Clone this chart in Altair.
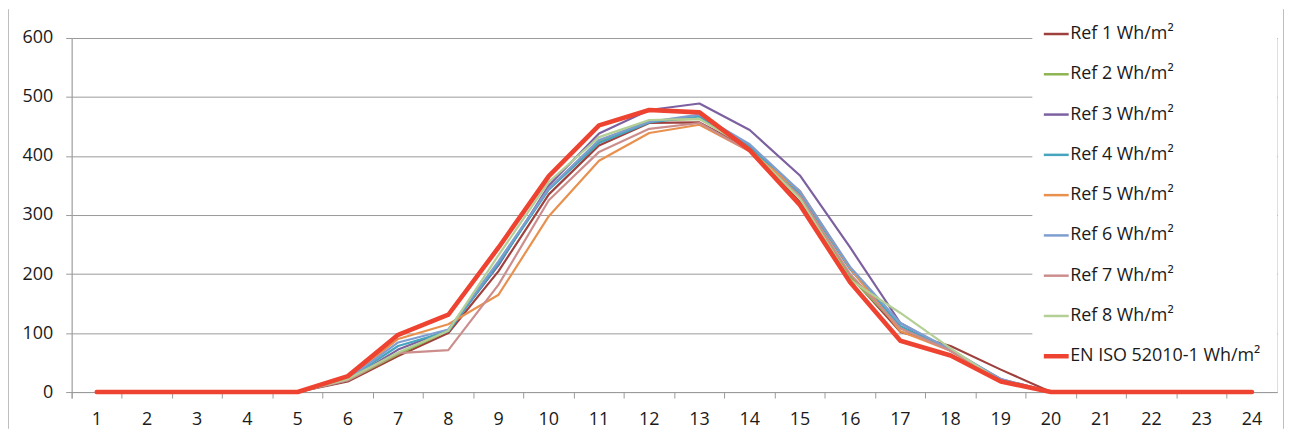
import altair as alt
import pandas as pd

hours = list(range(1, 25))
series_names = [
    "Ref 1 Wh/m²", "Ref 2 Wh/m²", "Ref 3 Wh/m²", "Ref 4 Wh/m²",
    "Ref 5 Wh/m²", "Ref 6 Wh/m²", "Ref 7 Wh/m²", "Ref 8 Wh/m²",
    "EN ISO 52010-1 Wh/m²",
]
ref1 = [0, 0, 0, 0, 0, 18, 61, 100, 205, 335, 418, 456, 457, 412, 322, 197, 102, 78, 38, 0, 0, 0, 0, 0]
ref2 = [0, 0, 0, 0, 0, 20, 64, 104, 220, 345, 425, 460, 463, 415, 330, 195, 108, 72, 20, 0, 0, 0, 0, 0]
ref3 = [0, 0, 0, 0, 0, 20, 72, 105, 215, 350, 438, 478, 489, 444, 367, 245, 117, 70, 22, 0, 0, 0, 0, 0]
ref4 = [0, 0, 0, 0, 0, 22, 78, 103, 218, 343, 422, 457, 467, 417, 336, 208, 112, 70, 20, 0, 0, 0, 0, 0]
ref5 = [0, 0, 0, 0, 0, 22, 90, 115, 165, 298, 392, 439, 453, 408, 341, 210, 103, 70, 20, 0, 0, 0, 0, 0]
ref6 = [0, 0, 0, 0, 0, 22, 84, 106, 222, 345, 427, 458, 470, 420, 340, 212, 117, 72, 22, 0, 0, 0, 0, 0]
ref7 = [0, 0, 0, 0, 0, 20, 66, 71, 182, 325, 407, 446, 456, 408, 332, 200, 108, 70, 18, 0, 0, 0, 0, 0]
ref8 = [0, 0, 0, 0, 0, 22, 67, 104, 232, 356, 432, 461, 463, 412, 328, 190, 134, 74, 18, 0, 0, 0, 0, 0]
en_iso = [0, 0, 0, 0, 0, 27, 97, 131, 245, 366, 452, 478, 474, 410, 317, 186, 87, 62, 18, 0, 0, 0, 0, 0]

colors = ["#9E413E", "#8DB451", "#7D60A0", "#46A4BE", "#E8914F",
          "#7F9ED0", "#CB8E8C", "#B3CF95", "#EE4330"]
line_widths = [2.2, 2.2, 2.2, 2.2, 2.2, 2.2, 2.2, 2.2, 4.6]

all_series = [ref1, ref2, ref3, ref4, ref5, ref6, ref7, ref8, en_iso]
rows = []
for name, vals, lw in zip(series_names, all_series, line_widths):
    for h, v in zip(hours, vals):
        rows.append({"hour": h, "series": name, "value": v, "lw": lw})
df = pd.DataFrame(rows)

W, H = 1212, 356
PAD_L, PAD_T, PAD_R, PAD_B = 64, 29, 9, 37
FONT = "Open Sans"
FS = 18
TXT = "#1a1a1a"
GRID = "#9a9a9a"
ISO = "EN ISO 52010-1 Wh/m²"

legend = alt.Legend(
    title=None, orient="none", legendX=966, legendY=-28,
    symbolType="stroke", symbolSize=625, labelFontSize=FS, labelFont=FONT,
    labelColor=TXT, rowPadding=22.5, labelOffset=5, padding=15,
    fillColor="white", strokeColor="white", labelLimit=400,
    symbolStrokeWidth={"expr": "datum.value == '" + ISO + "' ? 4.5 : 2.5"},
)

x_enc = alt.X(
    "hour:O",
    scale=alt.Scale(type="band", paddingInner=0, paddingOuter=0),
    axis=alt.Axis(title=None, labelAngle=0, bandPosition=0, tickExtra=True,
                  tickSize=6, tickColor=GRID, domainColor=GRID, grid=False,
                  labelFont=FONT, labelFontSize=FS, labelColor=TXT, labelPadding=13),
)
y_enc = alt.Y(
    "value:Q",
    scale=alt.Scale(domain=[0, 600], nice=False),
    axis=alt.Axis(title=None, values=[0, 100, 200, 300, 400, 500, 600],
                  tickSize=6, tickColor=GRID, domainColor=GRID, gridColor=GRID,
                  grid=True, labelFont=FONT, labelFontSize=FS, labelColor=TXT,
                  labelPadding=13),
)
color_enc = alt.Color("series:N", scale=alt.Scale(domain=series_names, range=colors),
                      legend=legend)

base = alt.Chart(df).mark_line(strokeJoin="round", strokeCap="round").encode(
    x=x_enc, y=y_enc, color=color_enc,
    strokeWidth=alt.StrokeWidth("lw:Q", scale=None),
)
refs = base.transform_filter(alt.datum.series != ISO)
iso = base.transform_filter(alt.datum.series == ISO)

border_df = pd.DataFrame({"side": ["left", "right"], "px": [-63.5, 1218.5]})
borders = alt.Chart(border_df).mark_rule(color="#bdbdbd", strokeWidth=1).encode(
    x=alt.X("px:Q", scale=None),
    y=alt.value(-PAD_T),
    y2=alt.value(H + PAD_B),
)

chart = alt.layer(refs, iso, borders).properties(
    width=W, height=H,
    autosize=alt.AutoSizeParams(type="none"),
    padding={"left": PAD_L, "top": PAD_T, "right": PAD_R, "bottom": PAD_B},
).configure_view(strokeWidth=0).configure(background="white")

chart.save("out.html", embed_options={"renderer": "svg", "actions": False})
